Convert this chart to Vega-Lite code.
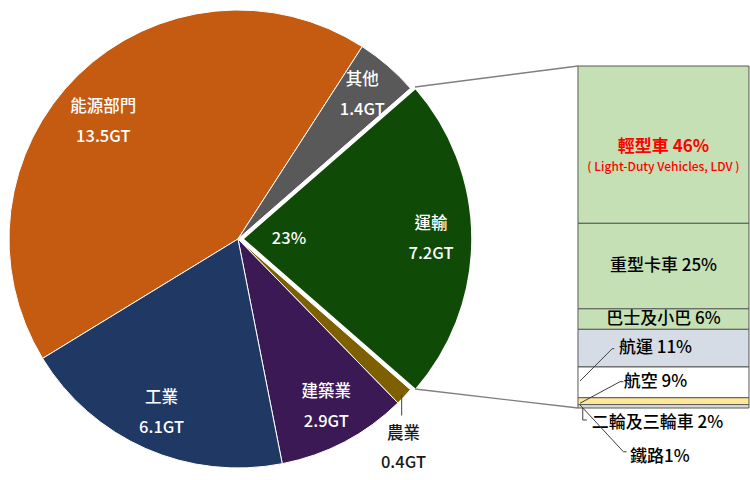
{
  "$schema": "https://vega.github.io/schema/vega-lite/v6.json",
  "width": 750,
  "height": 480,
  "autosize": {"type": "none"},
  "padding": 0,
  "background": "#ffffff",
  "config": {"view": {"stroke": null}, "text": {"font": "Noto Sans CJK TC", "fontWeight": 500}},
  "datasets": {
    "sectors": [
      {"sector": "能源部門", "value": 13.5, "idx": 1, "label": "能源部門\n13.5GT"},
      {"sector": "其他", "value": 1.4, "idx": 2, "label": "其他\n1.4GT"},
      {"sector": "運輸", "value": 7.2, "idx": 3, "label": "運輸\n7.2GT"},
      {"sector": "農業", "value": 0.4, "idx": 4, "label": "農業\n0.4GT"},
      {"sector": "建築業", "value": 2.9, "idx": 5, "label": "建築業\n2.9GT"},
      {"sector": "工業", "value": 6.1, "idx": 6, "label": "工業\n6.1GT"}
    ],
    "transport": [
      {"mode": "輕型車", "share": 46, "idx": 1, "label": "輕型車 46%"},
      {"mode": "重型卡車", "share": 25, "idx": 2, "label": "重型卡車 25%"},
      {"mode": "巴士及小巴", "share": 6, "idx": 3, "label": "巴士及小巴 6%"},
      {"mode": "航運", "share": 11, "idx": 4, "label": "航運 11%"},
      {"mode": "航空", "share": 9, "idx": 5, "label": "航空 9%"},
      {"mode": "二輪及三輪車", "share": 2, "idx": 6, "label": "二輪及三輪車 2%"},
      {"mode": "鐵路", "share": 1, "idx": 7, "label": "鐵路1%"}
    ]
  },
  "layer": [
    {
      "data": {"name": "transport"},
      "transform": [{"stack": "share", "groupby": [], "sort": [{"field": "idx", "order": "ascending"}], "as": ["s0", "s1"]}],
      "mark": {"type": "rect", "stroke": "#595959", "strokeWidth": 1},
      "encoding": {
        "x": {"datum": 169.0, "type": "quantitative", "scale": {"domain": [0, 219.3], "nice": false, "zero": false}, "axis": null},
        "x2": {"datum": 219.0},
        "y": {"field": "s0", "type": "quantitative", "scale": {"domain": [-19.3, 121.05], "reverse": true, "nice": false, "zero": false}, "axis": null},
        "y2": {"field": "s1"},
        "fill": {"field": "mode", "type": "nominal", "legend": null,
          "scale": {"domain": ["輕型車", "重型卡車", "巴士及小巴", "航運", "航空", "二輪及三輪車", "鐵路"],
                    "range": ["#c5e0b4", "#c5e0b4", "#c5e0b4", "#d6dce5", "#ffffff", "#ffe699", "#d9d9d9"]}}
      }
    },
    {
      "data": {"name": "sectors"},
      "mark": {"type": "arc", "outerRadius": 229, "stroke": "#ffffff", "strokeWidth": 1, "x": {"expr": "scale('x', 69.59)"}, "y": {"expr": "scale('y', 50.58)"}},
      "encoding": {
        "theta": {"field": "value", "type": "quantitative", "stack": true, "scale": {"range": [4.1638, 10.447]}},
        "order": {"field": "idx", "type": "quantitative"},
        "color": {"field": "sector", "type": "nominal", "legend": null,
          "scale": {"domain": ["能源部門", "其他", "運輸", "農業", "建築業", "工業"],
                    "range": ["#c55a11", "#595959", "#0f4a07", "#7f6000", "#3b1955", "#1f3864"]}},
        "opacity": {"condition": {"test": "datum.sector === '運輸'", "value": 0}, "value": 1}
      }
    },
    {
      "data": {"name": "sectors"},
      "mark": {"type": "arc", "outerRadius": 229, "stroke": "#ffffff", "strokeWidth": 1.5, "x": {"expr": "scale('x', 71.05)"}, "y": {"expr": "scale('y', 50.58)"}},
      "encoding": {
        "theta": {"field": "value", "type": "quantitative", "stack": true},
        "order": {"field": "idx", "type": "quantitative"},
        "color": {"field": "sector", "type": "nominal", "legend": null},
        "opacity": {"condition": {"test": "datum.sector === '運輸'", "value": 1}, "value": 0}
      }
    },
    {
      "data": {"name": "sectors"},
      "mark": {"type": "text", "radius": 190, "dy": -15, "lineBreak": "\n", "lineHeight": 30, "fontSize": 16.5, "fill": "#ffffff", "align": "center", "baseline": "middle", "x": {"expr": "scale('x', 69.59)"}, "y": {"expr": "scale('y', 50.58)"}},
      "encoding": {
        "theta": {"field": "value", "type": "quantitative", "stack": true},
        "order": {"field": "idx", "type": "quantitative"},
        "detail": {"field": "sector", "type": "nominal"},
        "text": {"field": "label", "type": "nominal"},
        "opacity": {"condition": {"test": "indexof(['其他', '工業', '建築業'], datum.sector) >= 0", "value": 1}, "value": 0}
      }
    },
    {
      "data": {"name": "sectors"},
      "mark": {"type": "text", "radius": 180, "dx": -9, "dy": -3, "lineBreak": "\n", "lineHeight": 30, "fontSize": 16.5, "fill": "#ffffff", "align": "center", "baseline": "middle", "x": {"expr": "scale('x', 69.59)"}, "y": {"expr": "scale('y', 50.58)"}},
      "encoding": {
        "theta": {"field": "value", "type": "quantitative", "stack": true},
        "order": {"field": "idx", "type": "quantitative"},
        "detail": {"field": "sector", "type": "nominal"},
        "text": {"field": "label", "type": "nominal"},
        "opacity": {"condition": {"test": "datum.sector === '能源部門'", "value": 1}, "value": 0}
      }
    },
    {
      "data": {"name": "sectors"},
      "mark": {"type": "text", "radius": 265, "dx": -27, "dy": 13, "lineBreak": "\n", "lineHeight": 29, "fontSize": 16.5, "fill": "#1a1a1a", "align": "center", "baseline": "middle", "x": {"expr": "scale('x', 69.59)"}, "y": {"expr": "scale('y', 50.58)"}},
      "encoding": {
        "theta": {"field": "value", "type": "quantitative", "stack": true},
        "order": {"field": "idx", "type": "quantitative"},
        "detail": {"field": "sector", "type": "nominal"},
        "text": {"field": "label", "type": "nominal"},
        "opacity": {"condition": {"test": "datum.sector === '農業'", "value": 1}, "value": 0}
      }
    },
    {
      "data": {"name": "sectors"},
      "mark": {"type": "text", "radius": 188, "dy": -15, "lineBreak": "\n", "lineHeight": 30, "fontSize": 16.5, "fill": "#ffffff", "align": "center", "baseline": "middle", "x": {"expr": "scale('x', 71.05)"}, "y": {"expr": "scale('y', 50.58)"}},
      "encoding": {
        "theta": {"field": "value", "type": "quantitative", "stack": true},
        "order": {"field": "idx", "type": "quantitative"},
        "detail": {"field": "sector", "type": "nominal"},
        "text": {"field": "label", "type": "nominal"},
        "opacity": {"condition": {"test": "datum.sector === '運輸'", "value": 1}, "value": 0}
      }
    },
    {
      "data": {"name": "sectors"},
      "mark": {"type": "text", "radius": 46, "fontSize": 16.5, "fill": "#ffffff", "align": "center", "baseline": "middle", "x": {"expr": "scale('x', 71.05)"}, "y": {"expr": "scale('y', 50.58)"}},
      "encoding": {
        "theta": {"field": "value", "type": "quantitative", "stack": true},
        "order": {"field": "idx", "type": "quantitative"},
        "detail": {"field": "sector", "type": "nominal"},
        "text": {"value": "23%"},
        "opacity": {"condition": {"test": "datum.sector === '運輸'", "value": 1}, "value": 0}
      }
    },
    {
      "data": {"name": "transport"},
      "mark": {"type": "text", "fontSize": 17, "fontWeight": "bold", "fill": "#ff0000", "align": "center", "baseline": "middle", "dy": 2, "x": {"expr": "scale('x', 194)"}},
      "encoding": {
        "y": {"field": "share", "type": "quantitative", "stack": "zero", "bandPosition": 0.5},
        "order": {"field": "idx", "type": "quantitative"},
        "detail": {"field": "mode", "type": "nominal"},
        "text": {"field": "label", "type": "nominal"},
        "opacity": {"condition": {"test": "datum.mode === '輕型車'", "value": 1}, "value": 0}
      }
    },
    {
      "data": {"name": "transport"},
      "mark": {"type": "text", "fontSize": 12, "fill": "#ff0000", "align": "center", "baseline": "middle", "dy": 22, "x": {"expr": "scale('x', 194)"}},
      "encoding": {
        "y": {"field": "share", "type": "quantitative", "stack": "zero", "bandPosition": 0.5},
        "order": {"field": "idx", "type": "quantitative"},
        "detail": {"field": "mode", "type": "nominal"},
        "text": {"value": "( Light-Duty Vehicles, LDV )"},
        "opacity": {"condition": {"test": "datum.mode === '輕型車'", "value": 1}, "value": 0}
      }
    },
    {
      "data": {"name": "transport"},
      "mark": {"type": "text", "fontSize": 17, "fill": "#000000", "align": "center", "baseline": "middle", "x": {"expr": "scale('x', 194)"}},
      "encoding": {
        "y": {"field": "share", "type": "quantitative", "stack": "zero", "bandPosition": 0.5},
        "order": {"field": "idx", "type": "quantitative"},
        "detail": {"field": "mode", "type": "nominal"},
        "text": {"field": "label", "type": "nominal"},
        "opacity": {"condition": {"test": "datum.mode === '重型卡車' || datum.mode === '巴士及小巴'", "value": 1}, "value": 0}
      }
    },
    {
      "data": {"name": "transport"},
      "mark": {"type": "text", "fontSize": 17, "fill": "#000000", "align": "center", "baseline": "middle", "dx": -8, "x": {"expr": "scale('x', 194)"}},
      "encoding": {
        "y": {"field": "share", "type": "quantitative", "stack": "zero", "bandPosition": 0.5},
        "order": {"field": "idx", "type": "quantitative"},
        "detail": {"field": "mode", "type": "nominal"},
        "text": {"field": "label", "type": "nominal"},
        "opacity": {"condition": {"test": "datum.mode === '航運' || datum.mode === '航空'", "value": 1}, "value": 0}
      }
    },
    {
      "data": {"name": "transport"},
      "transform": [{"filter": "datum.mode === '二輪及三輪車'"}],
      "mark": {"type": "text", "fontSize": 17, "fill": "#000000", "align": "left", "baseline": "middle"},
      "encoding": {
        "x": {"datum": 173.0, "type": "quantitative"},
        "y": {"datum": 104.4, "type": "quantitative"},
        "text": {"field": "label", "type": "nominal"}
      }
    },
    {
      "data": {"name": "transport"},
      "transform": [{"filter": "datum.mode === '鐵路'"}],
      "mark": {"type": "text", "fontSize": 17, "fill": "#000000", "align": "left", "baseline": "middle"},
      "encoding": {
        "x": {"datum": 184.2, "type": "quantitative"},
        "y": {"datum": 114.3, "type": "quantitative"},
        "text": {"field": "label", "type": "nominal"}
      }
    },
    {
      "data": {"values": [{}]},
      "mark": {"type": "rule", "color": "#7f7f7f", "strokeWidth": 1.3},
      "encoding": {"x": {"datum": 121.35}, "y": {"datum": 6.14}, "x2": {"datum": 169.0}, "y2": {"datum": 0}}
    },
    {
      "data": {"values": [{}]},
      "mark": {"type": "rule", "color": "#7f7f7f", "strokeWidth": 1.3},
      "encoding": {"x": {"datum": 121.35}, "y": {"datum": 94.44}, "x2": {"datum": 169.0}, "y2": {"datum": 100.0}}
    },
    {
      "data": {"values": [{}]},
      "mark": {"type": "rule", "color": "#404040", "strokeWidth": 1},
      "encoding": {"x": {"datum": 179.6}, "y": {"datum": 82.66}, "x2": {"datum": 179.0}, "y2": {"datum": 82.66}}
    },
    {
      "data": {"values": [{}]},
      "mark": {"type": "rule", "color": "#404040", "strokeWidth": 1},
      "encoding": {"x": {"datum": 179.0}, "y": {"datum": 82.66}, "x2": {"datum": 169.6}, "y2": {"datum": 92.1}}
    },
    {
      "data": {"values": [{}]},
      "mark": {"type": "rule", "color": "#404040", "strokeWidth": 1},
      "encoding": {"x": {"datum": 182.3}, "y": {"datum": 92.3}, "x2": {"datum": 181.3}, "y2": {"datum": 92.3}}
    },
    {
      "data": {"values": [{}]},
      "mark": {"type": "rule", "color": "#404040", "strokeWidth": 1},
      "encoding": {"x": {"datum": 181.3}, "y": {"datum": 92.3}, "x2": {"datum": 169.6}, "y2": {"datum": 98.6}}
    },
    {
      "data": {"values": [{}]},
      "mark": {"type": "rule", "color": "#404040", "strokeWidth": 1},
      "encoding": {"x": {"datum": 170.4}, "y": {"datum": 100.0}, "x2": {"datum": 170.4}, "y2": {"datum": 103.5}}
    },
    {
      "data": {"values": [{}]},
      "mark": {"type": "rule", "color": "#404040", "strokeWidth": 1},
      "encoding": {"x": {"datum": 170.4}, "y": {"datum": 103.5}, "x2": {"datum": 171.6}, "y2": {"datum": 103.5}}
    },
    {
      "data": {"values": [{}]},
      "mark": {"type": "rule", "color": "#404040", "strokeWidth": 1},
      "encoding": {"x": {"datum": 169.6}, "y": {"datum": 99.1}, "x2": {"datum": 182.3}, "y2": {"datum": 112.8}}
    },
    {
      "data": {"values": [{}]},
      "mark": {"type": "rule", "color": "#404040", "strokeWidth": 1},
      "encoding": {"x": {"datum": 182.3}, "y": {"datum": 112.8}, "x2": {"datum": 183.2}, "y2": {"datum": 112.8}}
    },
    {
      "data": {"values": [{}]},
      "mark": {"type": "rule", "color": "#404040", "strokeWidth": 1},
      "encoding": {"x": {"datum": 117.45}, "y": {"datum": 96.2}, "x2": {"datum": 117.45}, "y2": {"datum": 102.2}}
    }
  ]
}
